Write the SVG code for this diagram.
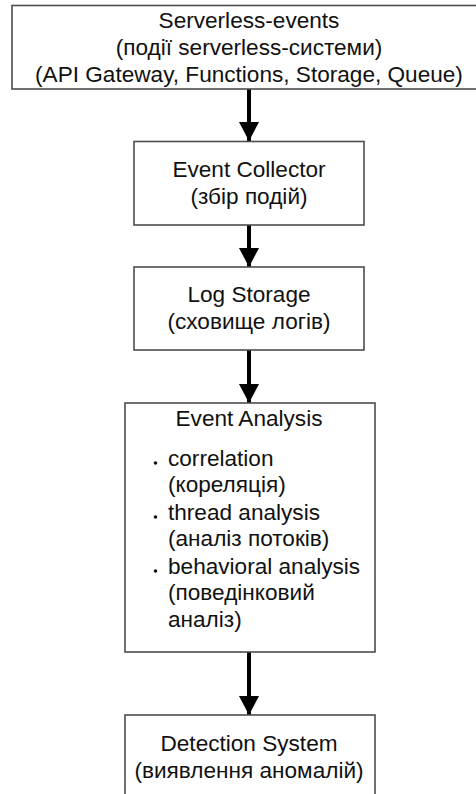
<svg xmlns="http://www.w3.org/2000/svg" width="476" height="794" viewBox="0 0 476 794">
  <style>
    .box { fill: #ffffff; stroke: #4d4d4d; stroke-width: 1.6; }
    .lbl { font-family: "Liberation Sans", Arial, sans-serif; font-size: 22.6px; fill: #111111; }
    .c { text-anchor: middle; }
    .edge { stroke: #000000; stroke-width: 4; fill: none; }
    .dot { fill: #111111; }
  </style>
  <defs>
    <marker id="arrowhead" markerUnits="userSpaceOnUse" markerWidth="20" markerHeight="20" refX="19" refY="10" orient="auto">
      <path d="M0,0 L19,10 L0,20 Z" fill="#000000"/>
    </marker>
  </defs>
  <rect width="476" height="794" fill="#ffffff"/>

  <g id="connectors">
    <line class="edge" x1="249" y1="89" x2="249" y2="141" marker-end="url(#arrowhead)"/>
    <line class="edge" x1="249" y1="225" x2="249" y2="267" marker-end="url(#arrowhead)"/>
    <line class="edge" x1="249" y1="350" x2="249" y2="403" marker-end="url(#arrowhead)"/>
    <line class="edge" x1="249" y1="652" x2="249" y2="715" marker-end="url(#arrowhead)"/>
  </g>

  <g id="serverless-events">
    <rect class="box" x="12" y="5.5" width="480" height="83.5"/>
    <text class="lbl c" x="249" y="28">Serverless-events</text>
    <text class="lbl c" x="249" y="55">(події serverless-системи)</text>
    <text class="lbl c" x="249" y="82">(API Gateway, Functions, Storage, Queue)</text>
  </g>

  <g id="event-collector">
    <rect class="box" x="134" y="141.5" width="230" height="83.5"/>
    <text class="lbl c" x="249" y="177">Event Collector</text>
    <text class="lbl c" x="249" y="204">(збір подій)</text>
  </g>

  <g id="log-storage">
    <rect class="box" x="134" y="267" width="230" height="83"/>
    <text class="lbl c" x="249" y="302">Log Storage</text>
    <text class="lbl c" x="249" y="329">(сховище логів)</text>
  </g>

  <g id="event-analysis">
    <rect class="box" x="125" y="403" width="250" height="249"/>
    <text class="lbl c" x="249" y="426">Event Analysis</text>
    <circle class="dot" cx="155.5" cy="463" r="1.8"/>
    <text class="lbl" x="168" y="466">correlation</text>
    <text class="lbl" x="168" y="492">(кореляція)</text>
    <circle class="dot" cx="155.5" cy="517" r="1.8"/>
    <text class="lbl" x="168" y="520">thread analysis</text>
    <text class="lbl" x="168" y="546">(аналіз потоків)</text>
    <circle class="dot" cx="155.5" cy="571" r="1.8"/>
    <text class="lbl" x="168" y="574">behavioral analysis</text>
    <text class="lbl" x="168" y="600">(поведінковий</text>
    <text class="lbl" x="168" y="627">аналіз)</text>
  </g>

  <g id="detection-system">
    <rect class="box" x="125" y="715" width="250" height="100"/>
    <text class="lbl c" x="249" y="751">Detection System</text>
    <text class="lbl c" x="249" y="778">(виявлення аномалій)</text>
  </g>
</svg>
